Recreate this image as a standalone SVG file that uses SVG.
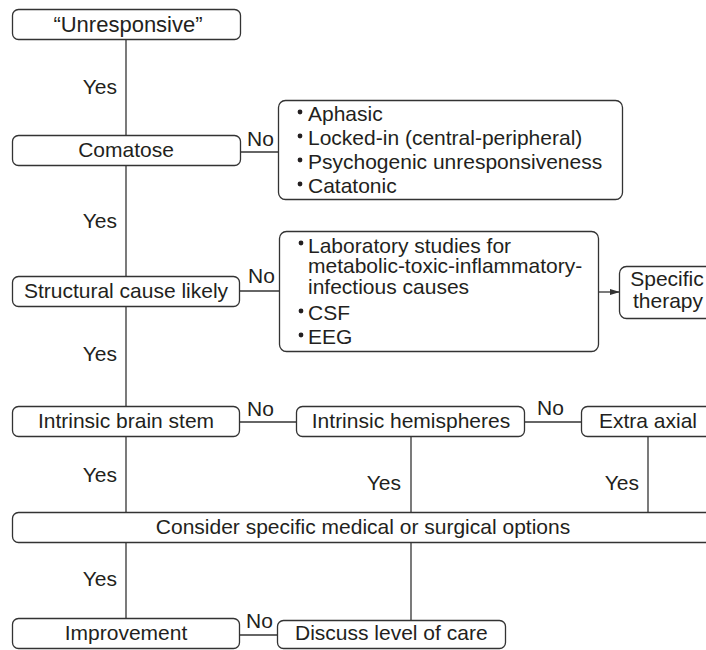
<svg xmlns="http://www.w3.org/2000/svg" width="706" height="650" viewBox="0 0 706 650">
<style>
.box{fill:#fff;stroke:#333;stroke-width:1.3}
.ln{stroke:#333;stroke-width:1.3;fill:none}
text{font-family:"Liberation Sans",Arial,sans-serif;font-size:21px;fill:#231f20}
.c{text-anchor:middle}
.e{text-anchor:end}
.dot{fill:#231f20}
</style>
<defs>
<marker id="arr" markerWidth="10" markerHeight="8" refX="9" refY="4" orient="auto" markerUnits="userSpaceOnUse">
<path d="M0,1 L10,4 L0,7 Z" fill="#333"/>
</marker>
</defs>
<rect width="706" height="650" fill="#fff"/>
<g id="connectors">
<line class="ln" x1="126" y1="40" x2="126" y2="136"/>
<line class="ln" x1="126" y1="165" x2="126" y2="277"/>
<line class="ln" x1="126" y1="307" x2="126" y2="407"/>
<line class="ln" x1="126" y1="437" x2="126" y2="512"/>
<line class="ln" x1="126" y1="542" x2="126" y2="618"/>
<line class="ln" x1="411" y1="437" x2="411" y2="512"/>
<line class="ln" x1="411" y1="542" x2="411" y2="620"/>
<line class="ln" x1="648" y1="437" x2="648" y2="512"/>
<line class="ln" x1="240" y1="152" x2="278" y2="152"/>
<line class="ln" x1="239" y1="291" x2="279" y2="291"/>
<line class="ln" x1="598" y1="292" x2="619" y2="292" marker-end="url(#arr)"/>
<line class="ln" x1="239" y1="422" x2="296" y2="422"/>
<line class="ln" x1="524" y1="422" x2="581" y2="422"/>
<line class="ln" x1="239" y1="635" x2="277" y2="635"/>
<text class="e" x="117" y="94">Yes</text>
<text class="e" x="117" y="228">Yes</text>
<text class="e" x="117" y="361">Yes</text>
<text class="e" x="117" y="482">Yes</text>
<text class="e" x="401" y="490">Yes</text>
<text class="e" x="639" y="490">Yes</text>
<text class="e" x="117" y="586">Yes</text>
<text x="247" y="146">No</text>
<text x="248" y="283">No</text>
<text x="247" y="416">No</text>
<text x="537" y="415">No</text>
<text x="246" y="628">No</text>
</g>
<g id="unresponsive">
<rect class="box" x="12.5" y="9.5" width="228" height="30" rx="6"/>
<text class="c" x="128" y="32" style="font-size:22px">“Unresponsive”</text>
</g>
<g id="comatose">
<rect class="box" x="12.5" y="135.5" width="228" height="30" rx="6"/>
<text class="c" x="126" y="157">Comatose</text>
</g>
<g id="differential">
<rect class="box" x="278.5" y="100.5" width="344" height="99" rx="7"/>
<circle class="dot" cx="300" cy="112" r="2.4"/>
<text x="308" y="121">Aphasic</text>
<circle class="dot" cx="300" cy="136" r="2.4"/>
<text x="308" y="145">Locked-in (central-peripheral)</text>
<circle class="dot" cx="300" cy="160" r="2.4"/>
<text x="308" y="169">Psychogenic unresponsiveness</text>
<circle class="dot" cx="300" cy="184" r="2.4"/>
<text x="308" y="193">Catatonic</text>
</g>
<g id="structural">
<rect class="box" x="12.5" y="276.5" width="227" height="30" rx="6"/>
<text class="c" x="126" y="298">Structural cause likely</text>
</g>
<g id="labs">
<rect class="box" x="279.5" y="231.5" width="319" height="120" rx="7"/>
<circle class="dot" cx="301" cy="243" r="2.4"/>
<text x="308" y="253">Laboratory studies for</text>
<text x="308" y="273">metabolic-toxic-inflammatory-</text>
<text x="308" y="294">infectious causes</text>
<circle class="dot" cx="301" cy="311" r="2.4"/>
<text x="308" y="320">CSF</text>
<circle class="dot" cx="301" cy="335" r="2.4"/>
<text x="308" y="344">EEG</text>
</g>
<g id="therapy">
<rect class="box" x="619.5" y="266.5" width="100" height="52" rx="7"/>
<text class="c" x="667" y="286">Specific</text>
<text class="c" x="668" y="308">therapy</text>
</g>
<g id="brainstem">
<rect class="box" x="12.5" y="406.5" width="227" height="30" rx="6"/>
<text class="c" x="126" y="428">Intrinsic brain stem</text>
</g>
<g id="hemispheres">
<rect class="box" x="296.5" y="406.5" width="228" height="30" rx="6"/>
<text class="c" x="411" y="428">Intrinsic hemispheres</text>
</g>
<g id="extraaxial">
<rect class="box" x="581.5" y="406.5" width="140" height="30" rx="6"/>
<text class="c" x="648" y="428">Extra axial</text>
</g>
<g id="consider">
<rect class="box" x="12.5" y="512.5" width="702" height="30" rx="6"/>
<text class="c" x="363" y="534">Consider specific medical or surgical options</text>
</g>
<g id="improvement">
<rect class="box" x="12.5" y="618.5" width="227" height="30" rx="6"/>
<text class="c" x="126" y="640">Improvement</text>
</g>
<g id="discuss">
<rect class="box" x="277.5" y="620.5" width="228" height="28" rx="6"/>
<text x="295" y="640">Discuss level of care</text>
</g>
</svg>
